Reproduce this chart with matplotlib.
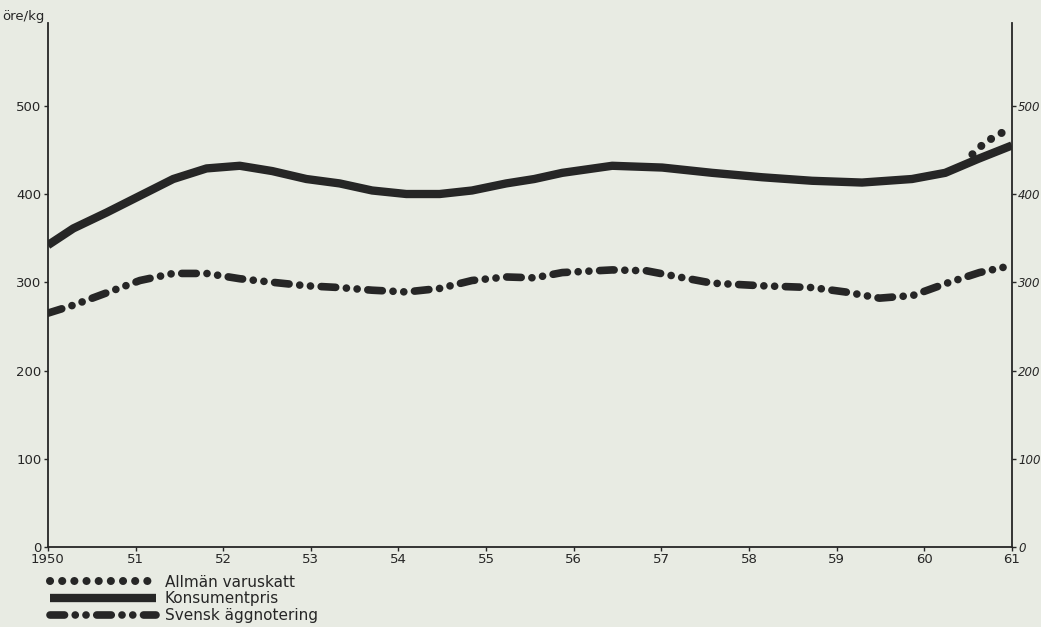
import matplotlib.pyplot as plt
from matplotlib.lines import Line2D

# konsumentpris (öre/kg)
kons_x = [1950.0, 1950.29, 1950.67, 1951.05, 1951.43, 1951.81, 1952.19, 1952.56, 1952.95,
          1953.33, 1953.7, 1954.09, 1954.47, 1954.84, 1955.23, 1955.55, 1955.87, 1956.44,
          1957.01, 1957.58, 1958.15, 1958.72, 1959.29, 1959.86, 1960.24, 1960.62, 1961.0]
kons_y = [342, 361, 379, 398, 417, 429, 432, 426, 417,
          412, 404, 400, 400, 404, 412, 417, 424, 432,
          430, 424, 419, 415, 413, 417, 424, 440, 455]

# svensk äggnotering
agg_x = [1950.0, 1950.29, 1950.67, 1951.05, 1951.43, 1951.81, 1952.19, 1952.56, 1952.95,
         1953.33, 1953.7, 1954.09, 1954.47, 1954.84, 1955.23, 1955.55, 1955.87, 1956.44,
         1956.83, 1957.2, 1957.58, 1958.15, 1958.72, 1959.1, 1959.49, 1959.87, 1960.26,
         1960.63, 1961.0]
agg_y = [265, 274, 288, 302, 310, 310, 304, 300, 296,
         294, 291, 289, 293, 302, 306, 305, 311, 314,
         313, 306, 299, 296, 294, 289, 282, 285, 299,
         311, 319]

# konsumentpris inkl. allmän varuskatt
skatt_x = [1960.55, 1960.71, 1960.84, 1960.96]
skatt_y = [445, 460, 466, 475]

år = list(range(1950, 1962))
år_etiketter = ["1950"] + [str(a)[2:] for a in år[1:]]
y_ticks = [0, 100, 200, 300, 400, 500]

bg = "#e8ebe3"
ink = "#262626"

fig = plt.figure(figsize=(10.41, 6.27), dpi=100, facecolor=bg)
ax = fig.add_axes([0.046, 0.1276, 0.926, 0.836])
ax.set_facecolor(bg)

agg_style = dict(linestyle=(0, (1.9, 1.4, 0.01, 1.4, 0.01, 1.4)), dash_capstyle="round")
dot_style = dict(linestyle=(0, (0.01, 1.5)), dash_capstyle="round")

ax.plot(kons_x, kons_y, color=ink, lw=6, solid_capstyle="butt", solid_joinstyle="round")
ax.plot(agg_x, agg_y, color=ink, lw=5.5, **agg_style)
ax.plot(skatt_x, skatt_y, color=ink, lw=5.8, **dot_style)

ax.set_xlim(1950, 1961)
ax.set_ylim(0, 594)
ax.spines["top"].set_visible(False)
for s in ["left", "right", "bottom"]:
    ax.spines[s].set_color(ink)
    ax.spines[s].set_linewidth(1.3)

ax.set_xticks(år)
ax.set_xticklabels(år_etiketter, fontsize=9.5, color=ink)
ax.set_yticks(y_ticks)
ax.set_yticklabels([str(v) for v in y_ticks], fontsize=9.5, color=ink)
ax.tick_params(axis="both", length=3, width=1, colors=ink, pad=1.5)
ax.tick_params(axis="y", labelright=True, right=True, direction="out")
for lbl in ax.get_yticklabels(which="major")[:]:
    pass
for t in ax.yaxis.get_major_ticks():
    t.label2.set_fontsize(8.5)
    t.label2.set_fontstyle("italic")

ax.text(-0.003, 1.012, "öre/kg", transform=ax.transAxes, ha="right", va="center",
        fontsize=9.5, color=ink)

handles = [
    Line2D([], [], color=ink, lw=5.8, **dot_style),
    Line2D([], [], color=ink, lw=6, solid_capstyle="butt"),
    Line2D([], [], color=ink, lw=5.5, **agg_style),
]
labels = ["Allmän varuskatt", "Konsumentpris", "Svensk äggnotering"]
fig.legend(handles, labels, loc="lower left", bbox_to_anchor=(0.035, -0.016),
           frameon=False, fontsize=11, handlelength=6.9, labelspacing=0.12,
           handletextpad=0.6, labelcolor=ink)

fig.savefig("out.png", dpi=100, facecolor=bg)
